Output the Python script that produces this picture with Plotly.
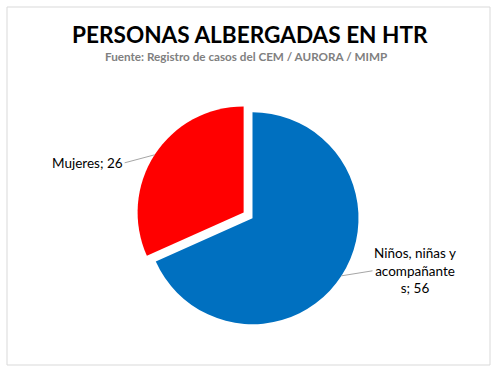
import math
import plotly.graph_objects as go

labels = ["Niños, niñas y acompañantes", "Mujeres"]
label_text = ["Niños, niñas y<br>acompañante<br>s", "Mujeres"]
values = [56, 26]
colors = ["#0070C0", "#FF0000"]
pulls = [0, 0.1]

W, H = 498, 373
title = "PERSONAS ALBERGADAS EN HTR"
subtitle = "Fuente: Registro de casos del CEM / AURORA / MIMP"

# pie geometry (paper px)
cx, cy, r = 252.5, 218.2, 106.0
maxpull = max(pulls)
box = 2 * r * (1 + maxpull)
dom_x = [(cx - box / 2) / W, (cx + box / 2) / W]
dom_y = [1 - (cy + box / 2) / H, 1 - (cy - box / 2) / H]

fig = go.Figure(go.Pie(
    labels=labels, values=values, sort=False, direction="clockwise", rotation=0,
    marker=dict(colors=colors, line=dict(width=0)), pull=pulls,
    textinfo="none", hoverinfo="label+value", showlegend=False,
    domain=dict(x=dom_x, y=dom_y),
))

# leader-label annotations computed from slice mid-angles
total = sum(values)
cum = 0
offsets = [(31, -5), (-30, 8)]
anchors = ["left", "right"]
for i, v in enumerate(values):
    mid = (cum + v / 2) / total * 2 * math.pi
    cum += v
    dx, dy = math.sin(mid), -math.cos(mid)
    rr = r * (1 + pulls[i])
    px, py = cx + dx * rr, cy + dy * rr
    fig.add_annotation(
        x=px / W, y=1 - py / H, xref="paper", yref="paper",
        text=f"{label_text[i]}; {v}", showarrow=True, arrowhead=0,
        arrowwidth=1, arrowcolor="#A6A6A6",
        ax=offsets[i][0], ay=offsets[i][1], xanchor=anchors[i],
        align="center", font=dict(family="Lato", size=13.5, color="#000000"),
    )

fig.add_annotation(x=249.5 / W, y=1 - 34 / H, xref="paper", yref="paper",
                   text=f"<b>{title}</b>", showarrow=False, yanchor="middle",
                   font=dict(family="Lato", size=22.6, color="#000000"))
fig.add_annotation(x=246 / W, y=1 - 56 / H, xref="paper", yref="paper",
                   text=f"<b>{subtitle}</b>", showarrow=False, yanchor="middle",
                   font=dict(family="Lato", size=11.7, color="#808080"))

fig.add_shape(type="rect", xref="paper", yref="paper",
              x0=7 / W, x1=490 / W, y0=1 - 365 / H, y1=1 - 7 / H,
              line=dict(color="#D9D9D9", width=1), fillcolor="rgba(0,0,0,0)")

fig.update_layout(width=W, height=H, margin=dict(l=0, r=0, t=0, b=0),
                  paper_bgcolor="#FFFFFF", plot_bgcolor="#FFFFFF")
fig.write_html("out.html", config={"displayModeBar": False},
               post_script="document.body.style.margin='0';")
